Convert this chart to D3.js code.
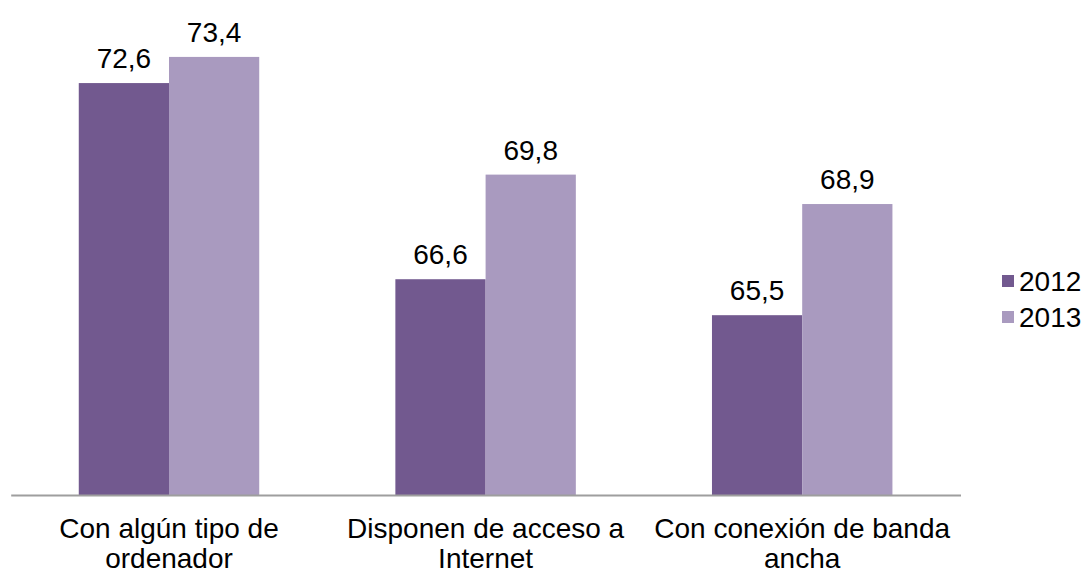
<!DOCTYPE html>
<html>
<head>
<meta charset="utf-8">
<script src="https://cdn.jsdelivr.net/npm/d3@7"></script>
<style>
html,body{margin:0;padding:0;background:#fff;}
svg text{font-family:"Liberation Sans",Arial,sans-serif;fill:#000;}
</style>
</head>
<body>
<svg id="chart" width="1091" height="574"></svg>
<script>
const categories = [["Con algún tipo de","ordenador"],["Disponen de acceso a","Internet"],["Con conexión de banda","ancha"]];
const categoryKeys = ["c1","c2","c3"];
const seriesNames = ["2012","2013"];
const values2012 = [72.6, 66.6, 65.5];
const values2013 = [73.4, 69.8, 68.9];
const colors = ["#72598F","#A99ABF"];

const svg = d3.select("#chart");
const x0 = d3.scaleBand().domain(categoryKeys).range([10.7, 960.5]).paddingInner(0.43).paddingOuter(0.215);
const x1 = d3.scaleBand().domain(seriesNames).range([0, x0.bandwidth()]);
const y = d3.scaleLinear().domain([60, 74]).range([495, 37.3]);

const data = categoryKeys.map((k,i)=>({key:k, vals:[values2012[i], values2013[i]]}));

const g = svg.append("g");
const groups = g.selectAll("g.grp").data(data).join("g").attr("class","grp")
  .attr("transform", d=>`translate(${x0(d.key)},0)`);
groups.selectAll("rect").data(d=>d.vals.map((v,j)=>({s:seriesNames[j], v, j})))
  .join("rect")
  .attr("x", d=>x1(d.s)).attr("width", x1.bandwidth())
  .attr("y", d=>y(d.v)).attr("height", d=>y(60)-y(d.v))
  .attr("fill", d=>colors[d.j]);
groups.selectAll("text.val").data(d=>d.vals.map((v,j)=>({s:seriesNames[j], v, j})))
  .join("text").attr("class","val")
  .attr("x", d=>x1(d.s)+x1.bandwidth()/2)
  .attr("y", d=>y(d.v)-15)
  .attr("text-anchor","middle")
  .attr("font-size","28px")
  .text(d=>d3.format(".1f")(d.v).replace(".",","));

// axis
const xAxis = d3.axisBottom(x0).tickSize(0).tickFormat("");
const ax = svg.append("g").attr("transform",`translate(0,${y(60)})`).call(xAxis);
ax.select(".domain").attr("stroke","#9E9E9E").attr("stroke-width",2);

// category labels
categoryKeys.forEach((k,i)=>{
  const t = svg.append("text").attr("text-anchor","middle").attr("font-size","28px");
  categories[i].forEach((line,li)=>{
    t.append("tspan").attr("x", x0(k)+x0.bandwidth()/2).attr("y", 538 + li*30).text(line);
  });
});

// legend
const legend = svg.append("g");
seriesNames.forEach((s,i)=>{
  const ly = 281 + i*36;
  legend.append("rect").attr("x",1002).attr("y",ly-6).attr("width",12).attr("height",12).attr("fill",colors[i]);
  legend.append("text").attr("x",1019).attr("y",ly+10).attr("font-size","28px").text(s);
});
</script>
</body>
</html>
